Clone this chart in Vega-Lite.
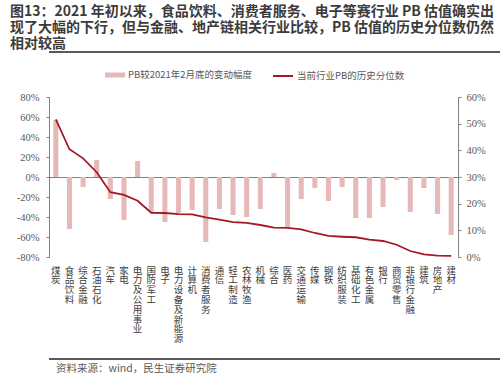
{
  "$schema": "https://vega.github.io/schema/vega-lite/v6.json",
  "padding": {"left": 3, "top": 4, "right": 5, "bottom": 3},
  "background": "white",
  "config": {"view": {"stroke": null}},
  "title": {
    "text": ["图13：2021 年初以来，食品饮料、消费者服务、电子等赛行业 PB 估值确实出", "现了大幅的下行，但与金融、地产链相关行业比较，PB 估值的历史分位数仍然", "相对较高"],
    "anchor": "start", "frame": "bounds", "font": "Noto Sans CJK SC", "fontSize": 14, "fontWeight": "bold",
    "color": "#3B3B3B", "lineHeight": 16.2, "offset": 0, "dx": 7
  },
  "spacing": 12,
  "vconcat": [
    {
      "width": 489, "height": 1,
      "data": {"values": [{"v": 1}]},
      "mark": {"type": "rule", "color": "#595959", "strokeWidth": 2},
      "encoding": {"y": {"field": "v", "type": "quantitative", "scale": {"domain": [0, 1]}, "axis": null}}
    },
    {
      "width": 409, "height": 160,
      "data": {"values": [
        {"industry": "煤炭", "change": 0.57, "pct": 0.516},
        {"industry": "食品饮料", "change": -0.52, "pct": 0.404},
        {"industry": "综合金融", "change": -0.10, "pct": 0.37},
        {"industry": "石油石化", "change": 0.17, "pct": 0.318},
        {"industry": "汽车", "change": -0.22, "pct": 0.243},
        {"industry": "家电", "change": -0.43, "pct": 0.233},
        {"industry": "电力及公用事业", "change": 0.16, "pct": 0.211},
        {"industry": "国防军工", "change": -0.35, "pct": 0.166},
        {"industry": "电子", "change": -0.45, "pct": 0.165},
        {"industry": "电力设备及新能源", "change": -0.36, "pct": 0.161},
        {"industry": "计算机", "change": -0.33, "pct": 0.16},
        {"industry": "消费者服务", "change": -0.65, "pct": 0.149},
        {"industry": "通信", "change": -0.32, "pct": 0.14},
        {"industry": "轻工制造", "change": -0.38, "pct": 0.131},
        {"industry": "农林牧渔", "change": -0.40, "pct": 0.128},
        {"industry": "机械", "change": -0.32, "pct": 0.12},
        {"industry": "综合", "change": 0.04, "pct": 0.11},
        {"industry": "医药", "change": -0.51, "pct": 0.109},
        {"industry": "交通运输", "change": -0.22, "pct": 0.104},
        {"industry": "传媒", "change": -0.11, "pct": 0.09},
        {"industry": "钢铁", "change": -0.24, "pct": 0.079},
        {"industry": "纺织服装", "change": -0.10, "pct": 0.076},
        {"industry": "基础化工", "change": -0.41, "pct": 0.074},
        {"industry": "有色金属", "change": -0.41, "pct": 0.065},
        {"industry": "银行", "change": -0.30, "pct": 0.06},
        {"industry": "商贸零售", "change": -0.03, "pct": 0.046},
        {"industry": "非银行金融", "change": -0.35, "pct": 0.0225},
        {"industry": "建筑", "change": -0.11, "pct": 0.01},
        {"industry": "房地产", "change": -0.37, "pct": 0.005},
        {"industry": "建材", "change": -0.58, "pct": 0.004}
      ]},
      "layer": [
        {
          "mark": {"type": "bar", "width": {"band": 0.37}},
          "encoding": {
            "x": {
              "field": "industry", "type": "nominal", "sort": null,
              "scale": {"paddingInner": 0, "paddingOuter": 0},
              "axis": {
                "title": null, "domain": false, "ticks": false, "labelAngle": 0,
                "labelExpr": "split(datum.label, '')", "labelBaseline": "top", "labelAlign": "center",
                "labelLineHeight": 9.8, "labelFontSize": 9.5, "labelFont": "Noto Sans CJK SC",
                "labelColor": "#404040", "labelPadding": 8, "labelLimit": 300, "labelOverlap": false, "labelBound": false,
                "minExtent": 89
              }
            },
            "y": {
              "field": "change", "type": "quantitative",
              "scale": {"domain": [-0.8, 0.8]},
              "axis": {
                "title": null, "orient": "left",
                "grid": true, "gridColor": "#808080", "gridWidth": 1,
                "gridOpacity": {"condition": {"test": "datum.value === 0", "value": 1}, "value": 0},
                "values": [-0.8, -0.6, -0.4, -0.2, 0, 0.2, 0.4, 0.6, 0.8],
                "labelExpr": "round(datum.value * 100) + '%'", "labelOverlap": false,
                "labelFont": "Liberation Serif", "labelFontSize": 10.5, "labelColor": "#595959",
                "domainColor": "#808080", "tickColor": "#808080", "tickSize": 3, "labelPadding": 7,
                "minExtent": 46, "maxExtent": 46
              }
            },
            "color": {
              "datum": "PB较2021年2月底的变动幅度",
              "scale": {"range": ["#E6B8B7"]},
              "legend": {
                "orient": "none", "legendX": 56, "legendY": -32, "title": null, "padding": 0,
                "symbolType": "M-1,-0.25H1V0.25H-1Z", "symbolSize": 400, "symbolStrokeWidth": 0,
                "labelFont": "Noto Sans CJK SC", "labelFontSize": 9.5, "labelColor": "#595959", "labelOffset": 3
              }
            }
          }
        },
        {
          "mark": {"type": "line", "strokeWidth": 1.8},
          "encoding": {
            "x": {
              "field": "industry", "type": "nominal", "sort": null,
              "scale": {"paddingInner": 0, "paddingOuter": 0},
              "axis": {
                "title": null, "domain": false, "ticks": false, "labelAngle": 0,
                "labelExpr": "split(datum.label, '')", "labelBaseline": "top", "labelAlign": "center",
                "labelLineHeight": 9.8, "labelFontSize": 9.5, "labelFont": "Noto Sans CJK SC",
                "labelColor": "#404040", "labelPadding": 8, "labelLimit": 300, "labelOverlap": false, "labelBound": false,
                "minExtent": 89
              }
            },
            "y": {
              "field": "pct", "type": "quantitative",
              "scale": {"domain": [0, 0.6]},
              "axis": {
                "title": null, "orient": "right", "grid": false,
                "values": [0, 0.1, 0.2, 0.3, 0.4, 0.5, 0.6],
                "labelExpr": "round(datum.value * 100) + '%'", "labelOverlap": false,
                "labelFont": "Liberation Serif", "labelFontSize": 10.5, "labelColor": "#595959",
                "domainColor": "#808080", "tickColor": "#808080", "tickSize": 3, "labelPadding": 5
              }
            },
            "color": {
              "datum": "当前行业PB的历史分位数",
              "scale": {"range": ["#A31A23"]},
              "legend": {
                "orient": "none", "legendX": 223, "legendY": -32, "title": null, "padding": 0,
                "symbolType": "stroke", "symbolSize": 400, "symbolStrokeWidth": 2,
                "labelFont": "Noto Sans CJK SC", "labelFontSize": 9.5, "labelColor": "#595959", "labelOffset": 3
              }
            }
          }
        }
      ],
      "resolve": {"scale": {"y": "independent", "color": "independent"}}
    },
    {
      "width": 489, "height": 2,
      "data": {"values": [{"v": 1}]},
      "mark": {"type": "rule", "color": "#595959", "strokeWidth": 2},
      "encoding": {"y": {"field": "v", "type": "quantitative", "scale": {"domain": [0, 1]}, "axis": null}},
      "title": {
        "text": "资料来源：wind，民生证券研究院", "orient": "bottom", "anchor": "start",
        "font": "Noto Sans CJK SC", "fontSize": 10.5, "fontWeight": "normal", "color": "#595959",
        "offset": 3, "dx": 8
      }
    }
  ]
}
